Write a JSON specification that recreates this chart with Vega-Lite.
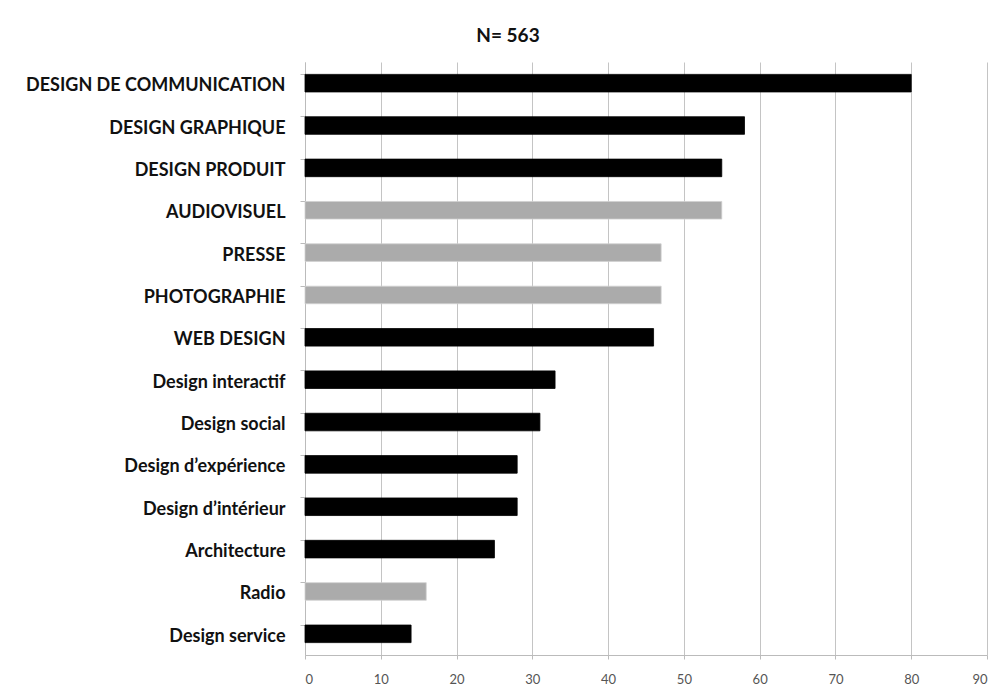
{
  "$schema": "https://vega.github.io/schema/vega-lite/v6.json",
  "width": 682,
  "height": 593,
  "autosize": {"type": "none"},
  "padding": {"left": 305, "top": 62, "right": 11, "bottom": 41},
  "background": "white",
  "title": {
    "text": "N= 563",
    "font": "Lato",
    "fontSize": 19,
    "fontWeight": "bold",
    "color": "#111",
    "anchor": "middle",
    "frame": "group",
    "dx": -138,
    "offset": 16
  },
  "data": {
    "values": [
      {"categorie": "DESIGN DE COMMUNICATION", "valeur": 80, "type": "plein"},
      {"categorie": "DESIGN GRAPHIQUE", "valeur": 58, "type": "plein"},
      {"categorie": "DESIGN PRODUIT", "valeur": 55, "type": "plein"},
      {"categorie": "AUDIOVISUEL", "valeur": 55, "type": "texture"},
      {"categorie": "PRESSE", "valeur": 47, "type": "texture"},
      {"categorie": "PHOTOGRAPHIE", "valeur": 47, "type": "texture"},
      {"categorie": "WEB DESIGN", "valeur": 46, "type": "plein"},
      {"categorie": "Design interactif", "valeur": 33, "type": "plein"},
      {"categorie": "Design social", "valeur": 31, "type": "plein"},
      {"categorie": "Design d’expérience", "valeur": 28, "type": "plein"},
      {"categorie": "Design d’intérieur", "valeur": 28, "type": "plein"},
      {"categorie": "Architecture", "valeur": 25, "type": "plein"},
      {"categorie": "Radio", "valeur": 16, "type": "texture"},
      {"categorie": "Design service", "valeur": 14, "type": "plein"}
    ]
  },
  "mark": {"type": "bar", "strokeWidth": 0.8},
  "encoding": {
    "y": {
      "field": "categorie",
      "type": "nominal",
      "sort": null,
      "title": null,
      "scale": {"paddingInner": 0.585, "paddingOuter": 0.2925},
      "axis": {
        "labelFont": "Lato",
        "labelFontSize": 18,
        "labelFontWeight": "bold",
        "labelColor": "#111",
        "labelPadding": 15,
        "labelOffset": 3,
        "labelLimit": 320,
        "domainColor": "#bbbbbb",
        "tickColor": "#bbbbbb",
        "tickSize": 5,
        "bandPosition": 0,
        "grid": false
      }
    },
    "x": {
      "field": "valeur",
      "type": "quantitative",
      "title": null,
      "scale": {"domain": [0, 90], "nice": false},
      "axis": {
        "values": [0, 10, 20, 30, 40, 50, 60, 70, 80, 90],
        "labelFont": "Lato",
        "labelFontSize": 13,
        "labelColor": "#555",
        "labelPadding": 14,
        "domainColor": "#bbbbbb",
        "tickColor": "#bbbbbb",
        "tickSize": 4,
        "gridColor": "#c4c4c4",
        "gridWidth": 1
      }
    },
    "color": {
      "field": "type",
      "type": "nominal",
      "legend": null,
      "scale": {"domain": ["plein", "texture"], "range": ["#000000", "#ababab"]}
    },
    "stroke": {
      "field": "type",
      "type": "nominal",
      "legend": null,
      "scale": {"domain": ["plein", "texture"], "range": ["#000000", "#d0d0d0"]}
    }
  },
  "config": {"view": {"stroke": null}}
}
